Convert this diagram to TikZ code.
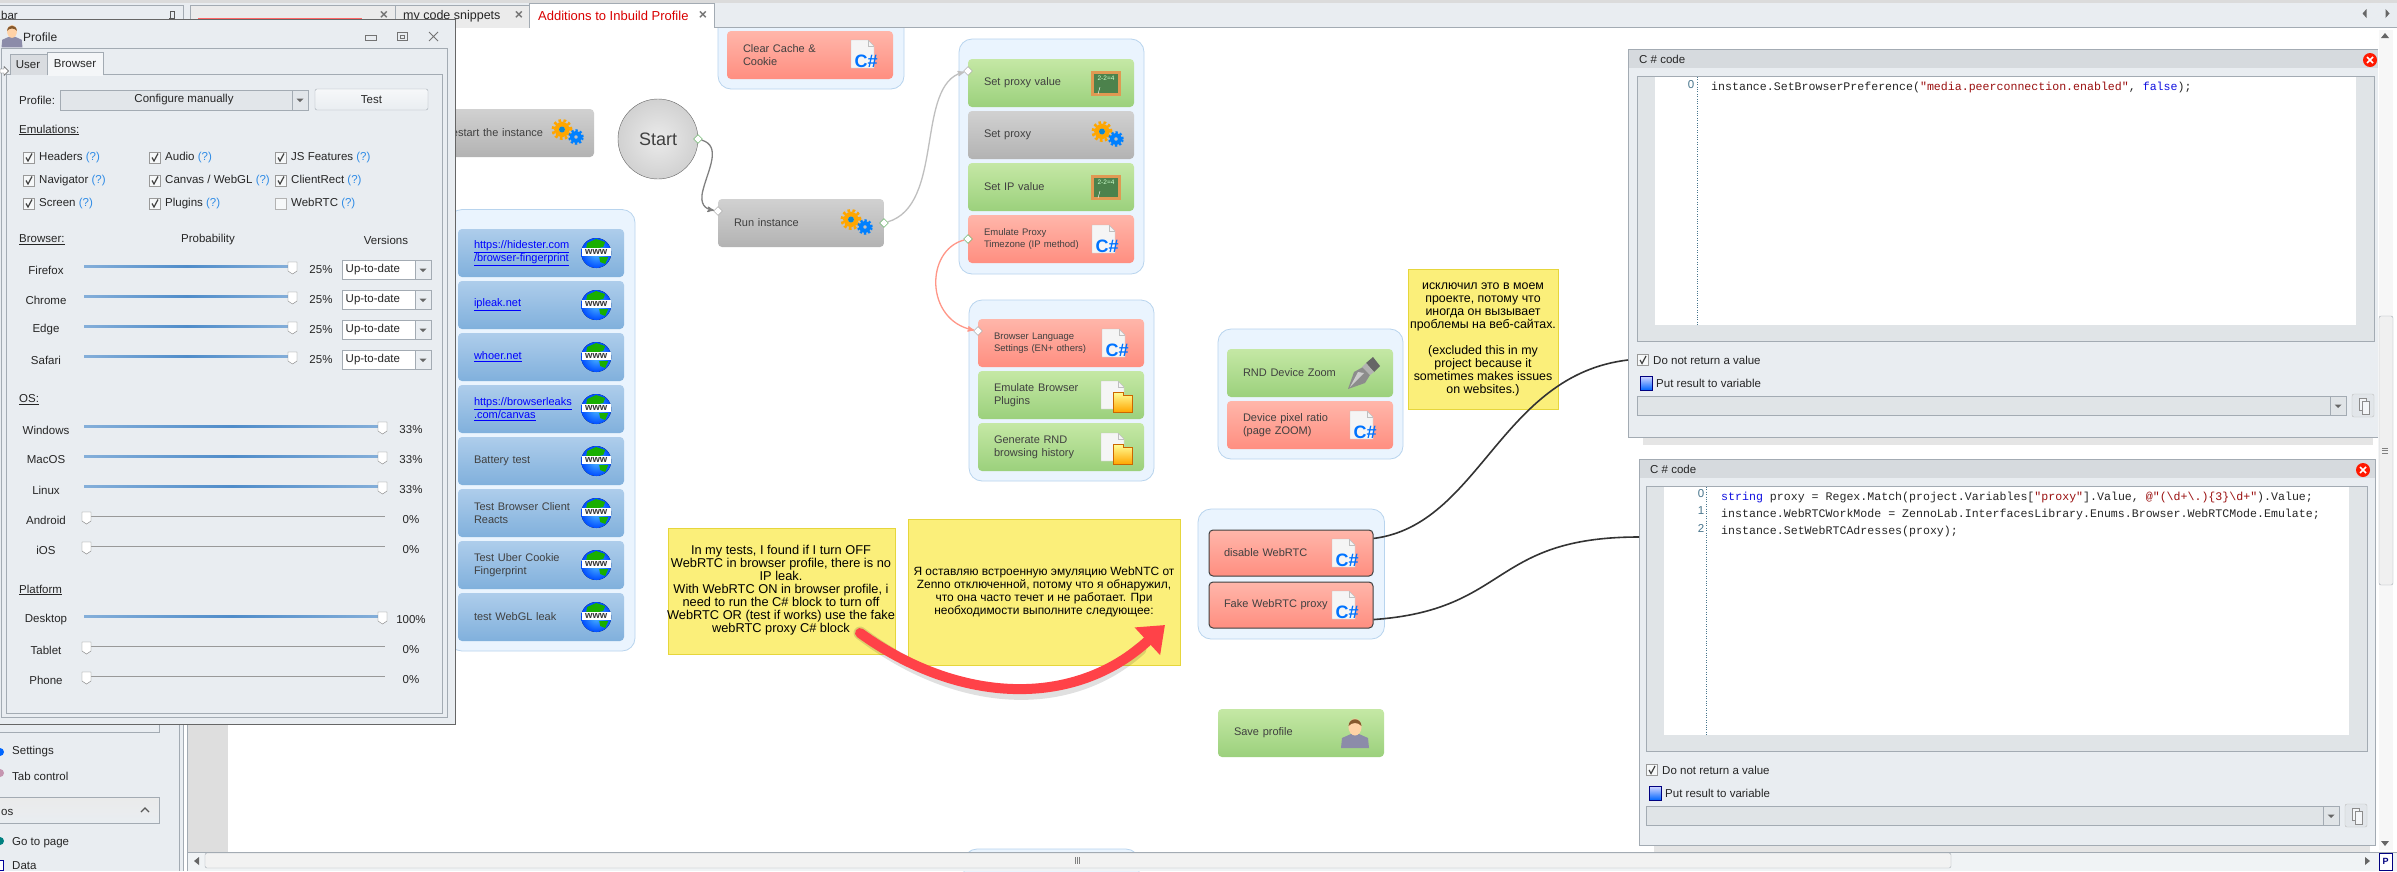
\documentclass[tikz,border=0pt]{standalone}
\usepackage{fontspec}
\setmainfont{Liberation Sans}
\setmonofont{Liberation Mono}
\usetikzlibrary{arrows,arrows.meta,shapes.geometric}
\definecolor{panelbg}{HTML}{E9EDF1}
\definecolor{panelline}{HTML}{A3ABB3}
\definecolor{qblue}{HTML}{2E8BE6}
\definecolor{strred}{HTML}{9A1010}
\definecolor{kwblue}{HTML}{1010E0}
\definecolor{bigred}{HTML}{FF4248}
\definecolor{sliderblue}{HTML}{4F8CC9}
\definecolor{notefill}{HTML}{FBEF7A}
\definecolor{noteline}{HTML}{E6D63C}
\newcommand{\blockfont}{\fontsize{11}{13}\selectfont}
\newcommand{\smallblockfont}{\fontsize{9.5}{12}\selectfont}
\newcommand{\uifont}{\fontsize{11.5}{13}\selectfont}
\newcommand{\notefont}{\fontsize{12.4}{13}\selectfont}
\tikzset{
  groupbox/.style = {draw={rgb,255:red,184;green,212;blue,238}, fill={rgb,255:red,234;green,244;blue,254}, rounded corners=13pt, line width=0.8pt},
  blocknode/.style = {rounded corners=4pt, minimum width=166pt, minimum height=48pt,
    text width=134pt, inner sep=0pt, align=left, font=\blockfont, text=black!75},
  greenblock/.style = {blocknode, top color={rgb,255:red,197;green,232;blue,165}, bottom color={rgb,255:red,155;green,208;blue,124}},
  redblock/.style = {blocknode, top color={rgb,255:red,255;green,182;blue,170}, bottom color={rgb,255:red,255;green,142;blue,128}},
  greyblock/.style = {blocknode, top color=black!18, bottom color=black!30},
  blueblock/.style = {blocknode, top color={rgb,255:red,174;green,205;blue,235}, bottom color={rgb,255:red,128;green,176;blue,220}},
  portgreen/.style = {diamond, draw=green!50!black!75, fill=white, inner sep=0pt, minimum size=9pt},
  portgrey/.style = {diamond, draw=black!40, fill=white, inner sep=0pt, minimum size=9pt},
  edgegrey/.style = {->,>=stealth', line width=1.3pt},
  notebox/.style = {draw=noteline, fill=notefill, line width=0.8pt},
  notetext/.style = {align=center, inner sep=0pt, font=\notefont, text=black},
  uitext/.style = {anchor=west, inner sep=0pt, font=\uifont, text=black!85},
  uimid/.style = {inner sep=0pt, font=\uifont, text=black!85},
  codetext/.style = {anchor=west, inner sep=0pt, font=\ttfamily\fontsize{11.6}{13}\selectfont, text=black!85},
  gearicon/.pic = {
    \draw[orange!70!yellow, line width=3pt, dash pattern=on 2.6pt off 2.4pt] (-4,-3.5) circle (9pt);
    \draw[orange!70!yellow, line width=4.5pt] (-4,-3.5) circle (5.5pt);
    \fill[cyan!70!blue] (-4,-3.5) circle (3pt);
    \draw[blue!50!cyan, line width=2.5pt, dash pattern=on 2.2pt off 2pt] (10,4) circle (6.5pt);
    \draw[blue!50!cyan, line width=4pt] (10,4) circle (4pt);
  },
  csharpicon/.pic = {
    \draw[black!25, fill=black!4] (-14,-14) -- (3,-14) -- (9,-8) -- (9,14) -- (-14,14) -- cycle;
    \draw[black!25] (3,-14) -- (3,-8) -- (9,-8);
    \node[inner sep=0pt, text=blue!55!cyan, font=\bfseries\fontsize{18}{18}\selectfont] (-label) at (1,7) {C\#};
  },
  globeicon/.pic = {
    \fill[inner color=cyan!60!blue!70!white, outer color=blue!70!cyan] (0,0) circle (15pt);
    \fill[green!65!black!90!yellow] (-9,-10) -- (0,-14) -- (9,-11) -- (7,-6) -- (-2,-4) -- (-10,-5) -- cycle;
    \fill[green!65!black!90!yellow] (3,4) -- (12,4) -- (9,11) -- (4,9) -- cycle;
    \fill[white] (-14.5,-5) rectangle (14.5,3);
    \node[inner sep=0pt, text=black!80, font=\bfseries\fontsize{9.5}{9.5}\selectfont] (-label) at (0,-1) {www};
  },
  boardicon/.pic = {
    \fill[brown!60!orange!80!white] (-15,-12.5) rectangle (15,12.5);
    \fill[green!30!black!70!white] (-12,-9.5) rectangle (12,9.5);
    \node[inner sep=0pt, text=white!80!green, font=\fontsize{6.5}{6.5}\selectfont] (-label) at (0,-5) {2-2=4};
    \draw[white] (-8,11) -- (-6,4);
  },
  docfoldericon/.pic = {
    \draw[black!25, fill=black!4] (-14,-14) -- (3,-14) -- (9,-8) -- (9,14) -- (-14,14) -- cycle;
    \draw[black!25] (3,-14) -- (3,-8) -- (9,-8);
    \draw[orange!80!black, top color=yellow!40!white, bottom color=orange!70!yellow] (-2,0) -- (-2,-3) -- (8,-3) -- (8,0) -- (17,0) -- (17,17) -- (-2,17) -- cycle;
  },
  penicon/.pic = {
    \fill[black!45] (-16,16) -- (-10,-1) -- (-1,-6) -- (6,2) -- (1,10) -- cycle;
    \fill[black!20] (-14,14) -- (-6,-1) -- (0,0) -- cycle;
    \fill[black!60] (2,-10) -- (9,-16) -- (16,-7) -- (10,-1) -- cycle;
    \fill[black!30] (-2,-6) -- (2,-10) -- (10,-1) -- (6,2) -- cycle;
  },
  usericon/.pic = {
    \fill[blue!25!black!45] (-14,15) -- (-13,5) -- (-4,1) -- (4,1) -- (13,5) -- (14,15) -- cycle;
    \fill[orange!35!white] (0,-6) ellipse (6.5pt and 8.5pt);
    \fill[brown!70!black] (-6.5,-7) .. controls (-6,-16) and (6,-16) .. (6.5,-7) .. controls (3,-11) and (-3,-11) .. (-6.5,-7) -- cycle;
  },
  checkon/.pic = {
    \draw[black!40, fill=white!60!panelbg] (-5.5,-5.5) rectangle (5.5,5.5);
    \draw[black!75, line width=1.2pt] (-3,0) -- (-1,3.5) -- (3,-4);
  },
  checkoff/.pic = {
    \draw[black!30, fill=white!60!panelbg] (-5.5,-5.5) rectangle (5.5,5.5);
  },
  thumb/.pic = {
    \draw[black!50, fill=white] (-4.5,-4) -- (4.5,-4) -- (4.5,5) -- (0,8) -- (-4.5,5) -- cycle;
  },
  downtip/.pic = {
    \fill[black!60] (-3.5,-1.5) -- (3.5,-1.5) -- (0,2) -- cycle;
  },
  closeicon/.pic = {
    \fill[red!80!orange] (0,0) circle (7pt);
    \draw[white, line width=1.6pt] (-3,-3) -- (3,3) (-3,3) -- (3,-3);
  },
  saveicon/.pic = {
    \draw[blue!50!black, top color=blue!15!white, bottom color=blue!60!cyan] (-6,-7) rectangle (6,7);
  },
}
\begin{document}
\begin{tikzpicture}[x=1pt,y=-1pt]
\path[use as bounding box, clip] (0,0) rectangle (2397,871);
\fill[white] (0,0) rectangle (2397,871);
\fill[black!13] (187,28) rectangle (228,852);

% groups on the canvas
\path[groupbox] (718,10) rectangle (904,89);
\path[groupbox] (449,209.5) rectangle (635,651);
\path[groupbox] (959,39) rectangle (1144,274);
\path[groupbox] (969,300) rectangle (1154,481);
\path[groupbox] (1218,329) rectangle (1403,459);
\path[groupbox] (1198,509) rectangle (1384.5,639);
\path[groupbox] (964,849) rectangle (1139,900);

% tab strip
\fill[panelbg] (0,0) rectangle (2397,28);
\fill[black!14] (0,0) rectangle (2397,3);
\draw[panelline] (0,27.5) -- (2397,27.5);
\draw[panelline, fill=panelbg] (-2,5) -- (183,5) -- (183,28) -- (-2,28);
\node[uitext] (tabbar) at (1,15) {bar};
\draw[black!65] (169,18) -- (175,18) (172,18) -- (172,21) (170,11) rectangle (174,18);
\draw[panelline, fill=black!8] (190,28) -- (190,5) -- (395,5) -- (395,28);
\fill[red!60!white] (198,17.8) rectangle (362,19);
\node[uimid, font=\bfseries\fontsize{14}{14}\selectfont, text=black!55] (tabhiddenx) at (384,15) {×};
\draw[panelline, fill=black!8] (395,28) -- (395,5) -- (529,5) -- (529,28);
\node[uitext] (tabsnippets) at (403,16) {\fontsize{12.5}{13}\selectfont my code snippets};
\node[uimid, font=\bfseries\fontsize{14}{14}\selectfont, text=black!55] (tabsnippetsx) at (519,15) {×};
\draw[panelline, fill=white] (529,28) -- (529,3) -- (714,3) -- (714,28);
\node[uitext, text=red!85!black] (tabadditions) at (538,15.5) {\fontsize{13}{13}\selectfont Additions to Inbuild Profile};
\node[uimid, font=\bfseries\fontsize{14}{14}\selectfont, text=black!55] (tabadditionsx) at (703,15) {×};

% blocks
\node[redblock] (clearcache) at (810,55) {Clear Cache \&\\Cookie};
\pic (clearcacheicon) at (865,54) {csharpicon};
\node[greyblock] (restart) at (511,133) {Restart the instance};
\pic (restarticon) at (566,133) {gearicon};
\node[circle, draw=black!60, inner color=black!8, outer color=black!18, minimum size=80pt, inner sep=0pt,
  font=\fontsize{18}{18}\selectfont, text=black!75] (start) at (658,139) {Start};
\node[greyblock] (runinstance) at (801,223) {Run instance};
\pic (runicon) at (855,223) {gearicon};

\node[blueblock] (hidester) at (541,253) {\color{blue}\underline{https://hidester.com}\\\underline{/browser-fingerprint}};
\node[blueblock] (ipleak) at (541,305) {\color{blue}\underline{ipleak.net}};
\node[blueblock] (whoer) at (541,357) {\color{blue}\underline{whoer.net}};
\node[blueblock] (leaks) at (541,409) {\color{blue}\underline{https://browserleaks}\\\underline{.com/canvas}};
\node[blueblock] (battery) at (541,461) {Battery test};
\node[blueblock] (clientreacts) at (541,513) {Test Browser Client\\Reacts};
\node[blueblock] (ubercookie) at (541,565) {Test Uber Cookie\\Fingerprint};
\node[blueblock] (webglleak) at (541,617) {test WebGL leak};
\foreach \n in {hidester,ipleak,whoer,leaks,battery,clientreacts,ubercookie,webglleak}{
  \pic (\n icon) at ([xshift=-28pt]\n.east) {globeicon};
}

\node[greenblock] (proxyvalue) at (1051,83) {Set proxy value};
\pic (proxyvalueicon) at (1106,83) {boardicon};
\node[greyblock] (setproxy) at (1051,135) {Set proxy};
\pic (setproxyicon) at (1106,135) {gearicon};
\node[greenblock] (ipvalue) at (1051,187) {Set IP value};
\pic (ipvalueicon) at (1106,187) {boardicon};
\node[redblock, font=\smallblockfont] (timezone) at (1051,239) {Emulate Proxy\\Timezone (IP method)};
\pic (timezoneicon) at (1106,239) {csharpicon};

\node[redblock, font=\smallblockfont] (language) at (1061,343) {Browser Language\\Settings (EN+ others)};
\pic (languageicon) at (1116,343) {csharpicon};
\node[greenblock] (plugins) at (1061,395) {Emulate Browser\\Plugins};
\pic (pluginsicon) at (1115,395) {docfoldericon};
\node[greenblock] (history) at (1061,447) {Generate RND\\browsing history};
\pic (historyicon) at (1115,447) {docfoldericon};

\node[greenblock] (devicezoom) at (1310,373) {RND Device Zoom};
\pic (devicezoomicon) at (1364,373) {penicon};
\node[redblock] (pixelratio) at (1310,425) {Device pixel ratio\\(page ZOOM)};
\pic (pixelratioicon) at (1364,425) {csharpicon};

\node[redblock, draw=black!75, line width=1pt, minimum width=164pt, minimum height=46pt] (disable) at (1291,553) {disable WebRTC};
\pic (disableicon) at (1346,553) {csharpicon};
\node[redblock, draw=black!75, line width=1pt, minimum width=164pt, minimum height=46pt] (fake) at (1291,605) {Fake WebRTC proxy};
\pic (fakeicon) at (1346,605) {csharpicon};
\node[greenblock] (saveprofile) at (1301,733) {Save profile};
\pic (saveprofileicon) at (1355,733) {usericon};

% ports
\node[portgreen] (startout) at (698,139) {};
\node[portgrey] (runin) at (718,211) {};
\node[portgreen] (runout) at (884,223) {};
\node[portgrey] (proxyin) at (968,71) {};
\node[portgreen] (timezoneout) at (968,239) {};
\node[portgrey] (languagein) at (978,331) {};

% connectors
\draw[edgegrey, draw=black!50] (startout) .. controls (722,146) and (708,170) .. (703,190) .. controls (699,205) and (706,209) .. (runin);
\draw[edgegrey, draw=black!25] (runout) .. controls (945,205) and (915,85) .. (proxyin);
\draw[edgegrey, draw={rgb,255:red,255;green,150;blue,135}] (timezoneout) .. controls (925,250) and (925,320) .. (languagein);

% notes
\node[notebox, minimum width=227pt, minimum height=126pt, inner sep=0pt] (noteen) at (781.5,591) {};
\node[notetext, font=\fontsize{12.8}{13}\selectfont] (noteentext) at (781,590.5) {In my tests, I found if I turn OFF\\WebRTC in browser profile, there is no\\IP leak.\\With WebRTC ON in browser profile, i\\need to run the C\# block to turn off\\WebRTC OR (test if works) use the fake\\webRTC proxy C\# block};
\node[notebox, minimum width=272pt, minimum height=146pt, inner sep=0pt] (noteru) at (1044,592) {};
\node[notetext, font=\fontsize{11.95}{13}\selectfont] (noterutext) at (1044,591.5) {Я оставляю встроенную эмуляцию WebNTC от\\Zenno отключенной, потому что я обнаружил,\\что она часто течет и не работает. При\\необходимости выполните следующее:};
\node[notebox, minimum width=150pt, minimum height=140pt, inner sep=0pt] (noteexcl) at (1483,339) {};
\node[notetext] (noteexcltext) at (1483,339) {исключил это в моем\\проекте, потому что\\иногда он вызывает\\проблемы на веб-сайтах.\\[13pt](excluded this in my\\project because it\\sometimes makes issues\\on websites.)};

\coordinate (bigtail) at (860,633);
\coordinate (bigtip) at (1165,625);
\draw[black, opacity=0.12, line width=13pt, line cap=round, yshift=-4pt] (bigtail) .. controls (960,705) and (1070,708) .. (1140,645);
\draw[bigred, line width=10pt, line cap=round, -{Triangle[length=24pt,width=36pt]}] (bigtail) .. controls (960,705) and (1075,708) .. (bigtip);

% code windows
\foreach \n/\wx/\wy/\ww/\wh/\el/\er in {one/1628/49/750/388/9/4, two/1639/459/736/386/7/8}{
  \fill[black, opacity=0.1] (\wx+15,\wy+\wh) rectangle (\wx+\ww-5,\wy+\wh+8);
  \node[draw=panelline, fill=panelbg, anchor=north west, minimum width=\ww pt, minimum height=\wh pt, inner sep=0pt, line width=0.8pt] (code\n) at (\wx,\wy) {};
  \fill[black!8!panelbg] (\wx+0.5,\wy+0.5) rectangle (\wx+\ww-0.5,\wy+19);
  \node[uitext] (code\n title) at (\wx+11,\wy+10) {C \# code};
  \pic (code\n close) at (\wx+\ww-\er-4,\wy+11) {closeicon};
  \draw[panelline, fill=black!4!panelbg] (\wx+\el,\wy+27) rectangle (\wx+\ww-\er,\wy+292);
  \fill[white] (\wx+\el+18,\wy+28) rectangle (\wx+\ww-\er-18,\wy+276);
  \draw[cyan!50!black, dotted] (\wx+\el+60,\wy+28) -- (\wx+\el+60,\wy+276);
  \pic (code\n check) at (\wx+\el+6,\wy+311) {checkon};
  \node[uitext] (code\n noreturn) at (\wx+\el+16,\wy+311) {Do not return a value};
  \pic (code\n save) at (\wx+\el+9,\wy+334) {saveicon};
  \node[uitext] (code\n putresult) at (\wx+\el+19,\wy+334) {Put result to variable};
  \draw[panelline, fill=black!4!panelbg] (\wx+\el,\wy+347) rectangle (\wx+\ww-\er-28,\wy+366);
  \draw[panelline] (\wx+\ww-\er-44,\wy+347) -- (\wx+\ww-\er-44,\wy+366);
  \pic (code\n tip) at (\wx+\ww-\er-36,\wy+357) {downtip};
  \draw[black!25, fill=black!3!panelbg, rounded corners=2pt] (\wx+\ww-\er-22,\wy+345) rectangle (\wx+\ww-\er,\wy+368);
  \draw[black!45, fill=white!50!panelbg] (\wx+\ww-\er-15,\wy+349) rectangle (\wx+\ww-\er-8,\wy+361);
  \draw[black!45, fill=white!50!panelbg] (\wx+\ww-\er-12,\wy+352) rectangle (\wx+\ww-\er-5,\wy+365);
}
\node[uimid, text=cyan!50!black] (numzero) at (1691,85) {0};
\node[codetext] (codeline) at (1711,87) {instance.SetBrowserPreference(\textcolor{strred}{"media.peerconnection.enabled"}, \textcolor{kwblue}{false});};
\node[uimid, text=cyan!50!black] (numa) at (1701,494) {0};
\node[uimid, text=cyan!50!black] (numb) at (1701,511) {1};
\node[uimid, text=cyan!50!black] (numc) at (1701,528) {2};
\node[codetext] (linea) at (1721,497) {\textcolor{kwblue}{string} proxy = Regex.Match(project.Variables[\textcolor{strred}{"proxy"}].Value, \textcolor{strred}{@"(\textbackslash d+\textbackslash .)\{3\}\textbackslash d+"}).Value;};
\node[codetext] (lineb) at (1721,514) {instance.WebRTCWorkMode = ZennoLab.InterfacesLibrary.Enums.Browser.WebRTCMode.Emulate;};
\node[codetext] (linec) at (1721,531) {instance.SetWebRTCAdresses(proxy);};

% wires to the code windows
\coordinate (codeonein) at (1628,360);
\coordinate (codetwoin) at (1639,537);
\draw[black!80, line width=1.6pt] (disable.10) .. controls (1480,525) and (1500,375) .. (codeonein);
\draw[black!80, line width=1.6pt] (fake.-10) .. controls (1510,610) and (1490,537) .. (codetwoin);

% right scrollbar
\fill[white] (2378,28) rectangle (2397,852);
\fill[black!3] (2379,30) rectangle (2393,850);
\draw[panelline, fill=black!6, rounded corners=2pt] (2379,316) rectangle (2393,585);
\draw[black!50] (2382,448) -- (2388,448) (2382,450.5) -- (2388,450.5) (2382,453) -- (2388,453);
\fill[black!60] (2381,38) -- (2389,38) -- (2385,33) -- cycle;
\fill[black!60] (2381,841) -- (2389,841) -- (2385,846) -- cycle;
\fill[black!60] (2366.5,9) -- (2366.5,18) -- (2362.5,13.5) -- cycle;
\fill[black!60] (2385.5,9) -- (2385.5,18) -- (2389.5,13.5) -- cycle;

% bottom scrollbar
\fill[panelbg!70!white] (187,852) rectangle (2397,871);
\draw[panelline] (187,852) -- (2397,852);
\draw[panelline, fill=black!5, rounded corners=2pt] (205,853) rectangle (1951,868);
\draw[black!50] (1075,857) -- (1075,864) (1077,857) -- (1077,864) (1079,857) -- (1079,864);
\fill[black!60] (199,857) -- (199,865) -- (194,861) -- cycle;
\fill[black!60] (2365,857) -- (2365,865) -- (2370,861) -- cycle;
\draw[blue!50!black, fill=white] (2379,853) rectangle (2392,870);
\node[uimid, font=\bfseries\fontsize{9}{9}\selectfont, text=blue!50!black] (zoomglyph) at (2385.5,861) {P};

% left panel
\fill[panelbg] (0,28) rectangle (179,871);
\draw[panelline] (179,28) -- (179,871) (183,28) -- (183,871) (187,28) -- (187,871);
\fill[panelbg] (179.5,28) rectangle (182.5,871);
\draw[panelline] (-2,732) -- (159.5,732) -- (159.5,700);
\node[uitext] (settings) at (12,752) {Settings};
\node[uitext] (tabcontrol) at (12,776) {Tab control};
\fill[blue!60!cyan] (0,752) circle (4pt);
\fill[magenta!50!black!50] (0,773) circle (4pt);
\draw[panelline, top color=black!8, bottom color=panelbg] (-2,797) rectangle (159.5,823);
\node[uitext] (groupos) at (1,812) {os};
\draw[black!65, line width=1.3pt] (141,812) -- (145,808) -- (149,812);
\node[uitext] (gotopage) at (12,843) {Go to page};
\node[uitext] (datalabel) at (12,866) {Data};
\fill[green!50!blue] (0,841) circle (4pt);
\draw[blue!60!black, fill=white] (-3,860) rectangle (3,870);

% profile window
\node[draw=black!60, fill=panelbg, anchor=north west, minimum width=457pt, minimum height=705pt, inner sep=0pt, line width=0.8pt] (profilewin) at (-2,19) {};
\pic (profileicon) at (12,36) [scale=0.75] {usericon};
\node[uitext, font=\fontsize{12}{13}\selectfont] (profiletitle) at (23,37) {Profile};
\draw[black!55] (365,35) rectangle (376,40);
\draw[black!55] (397,32) rectangle (407,40) (400,35) rectangle (404,38);
\draw[black!55, line width=1pt] (429,32) -- (438,41) (429,41) -- (438,32);
\draw[panelline] (1.5,48) rectangle (447,717);
\draw[panelline] (6,74.5) rectangle (442.5,713);
\draw[panelline, fill=black!7!panelbg] (10,75) -- (10,54) -- (47,54) -- (47,75);
\draw[panelline, fill=panelbg!50!white] (47,75) -- (47,52) -- (103,52) -- (103,75);
\fill[panelbg!50!white] (47.5,74) rectangle (102.5,75.5);
\node[uimid] (taguser) at (28,65) {User};
\node[uimid] (tagbrowser) at (75,64) {Browser};
\draw[black!70, fill=white] (0,69) -- (4,69) -- (4,66.5) -- (8.5,71) -- (4,75.5) -- (4,73) -- (0,73) -- cycle;

\node[uitext] (profilelabel) at (19,100) {Profile:};
\node[draw=panelline, fill=black!3!panelbg, minimum width=248pt, minimum height=20pt, inner sep=0pt, font=\uifont, text=black!85] (profilecombo) at (184,100) {Configure manually};
\draw[panelline] (292,90) -- (292,110);
\pic (profiletip) at (300,100) {downtip};
\node[draw=panelline, top color=panelbg!40!white, bottom color=panelbg, rounded corners=2pt, minimum width=113pt, minimum height=21pt, inner sep=0pt, font=\uifont, text=black!85] (testbtn) at (371.5,99.5) {Test};
\node[uitext] (emulabel) at (19,130) {\underline{Emulations:}};

\foreach \i/\cx/\cy/\lbl in {1/29/157.5/Headers, 2/29/180.5/Navigator, 3/29/203.5/Screen, 4/155/157.5/Audio, 5/155/180.5/{Canvas / WebGL}, 6/155/203.5/Plugins, 7/281/157.5/JS Features, 8/281/180.5/ClientRect}{
  \pic (emucheck\i) at (\cx,\cy) {checkon};
  \node[uitext] (emu\i) at (\cx+10,\cy) {\lbl\ \textcolor{qblue}{(?)}};
}
\pic (emucheckrtc) at (281,203.5) {checkoff};
\node[uitext] (emurtc) at (291,203.5) {WebRTC\ \textcolor{qblue}{(?)}};

\node[uitext] (browserlabel) at (19,240) {\underline{Browser:}};
\node[uimid] (problabel) at (208,240) {Probability};
\node[uimid] (verlabel) at (386,240) {Versions};
\foreach \i/\lbl/\sy in {1/Firefox/270, 2/Chrome/300, 3/Edge/330, 4/Safari/360}{
  \node[uimid] (br\i) at (46,\sy) {\lbl};
  \path[left color=sliderblue!70, right color=sliderblue!70, middle color=sliderblue] (84,\sy-5) rectangle (290,\sy-3);
  \pic (brthumb\i) at (292.5,\sy-4) {thumb};
  \node[uimid] (brpct\i) at (321,\sy) {25\%};
  \node[draw=panelline, fill=white, minimum width=89pt, minimum height=19pt, inner sep=0pt] (brcombo\i) at (386.5,\sy) {};
  \draw[panelline, fill=panelbg] (415,\sy-9.5) rectangle (431,\sy+9.5);
  \pic (brtip\i) at (423,\sy) {downtip};
  \node[uitext] (brver\i) at (345.5,\sy) {Up-to-date};
}

\node[uitext] (oslabel) at (19,400) {\underline{OS:}};
\foreach \i/\lbl/\sy/\pct in {1/Windows/430/33, 2/MacOS/460/33, 3/Linux/490/33, 4/Desktop/620/100}{
  \node[uimid] (on\i) at (46,\sy) {\lbl};
  \path[left color=sliderblue!70, right color=sliderblue!70, middle color=sliderblue] (84,\sy-5) rectangle (380,\sy-3);
  \pic (onthumb\i) at (382.5,\sy-4) {thumb};
  \node[uimid] (onpct\i) at (411,\sy) {\pct\%};
}
\foreach \i/\lbl/\sy in {1/Android/520, 2/iOS/550, 3/Tablet/650, 4/Phone/680}{
  \node[uimid] (off\i) at (46,\sy) {\lbl};
  \draw[black!40] (88,\sy-4) -- (385,\sy-4);
  \pic (offthumb\i) at (86.5,\sy-4) {thumb};
  \node[uimid] (offpct\i) at (411,\sy) {0\%};
}
\node[uitext] (platformlabel) at (19,590) {\underline{Platform}};
\end{tikzpicture}
\end{document}
